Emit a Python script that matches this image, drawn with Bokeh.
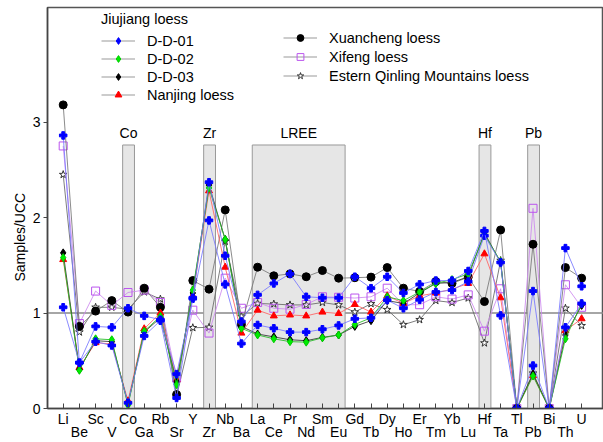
from bokeh.plotting import figure
from bokeh.models import (Range1d, FixedTicker, LinearAxis, Legend, Span,
                          LegendItem, Title, ColumnDataSource)
from bokeh.core.properties import value
from bokeh.embed import file_html
from bokeh.resources import INLINE

FONT = "Liberation Sans"
NAN = float("nan")

elements = ["Li", "Be", "Sc", "V", "Co", "Ga", "Rb", "Sr", "Y", "Zr", "Nb", "Ba",
            "La", "Ce", "Pr", "Nd", "Sm", "Eu", "Gd", "Tb", "Dy", "Ho", "Er", "Tm",
            "Yb", "Lu", "Hf", "Ta", "Tl", "Pb", "Bi", "Th", "U"]

dd01 = [1.06, 0.48, 0.86, 0.85, 1.05, 0.97, 0.93, 0.36, 1.15, 1.97, 1.30, 0.68,
        0.875, 0.84, 0.80, 0.80, 0.83, 0.87, 0.94, 0.95, 1.135, 1.05, 1.14, 1.22,
        1.24, 1.33, 1.81, 1.53, 0.0, 0.45, 0.0, 0.85, 1.10]
dd02 = [1.58, 0.40, 0.73, 0.72, 0.035, 0.81, 0.965, 0.25, 1.24, 2.31, 1.77, 0.84,
        0.77, 0.73, 0.70, 0.695, 0.74, 0.77, 0.88, 0.95, 1.17, 1.13, 1.22, 1.31,
        1.35, 1.41, 1.82, 1.54, 0.0, 0.34, 0.0, 0.73, 1.10]
dd03 = [1.63, 0.41, 0.71, 0.70, 0.05, 0.80, 0.95, 0.28, 1.21, 2.34, 1.77, 0.86,
        0.78, 0.75, 0.72, 0.71, 0.745, 0.77, 0.86, 0.92, 1.13, 1.10, 1.21, 1.31,
        1.32, 1.38, 1.84, 1.53, 0.0, 0.36, 0.0, 0.77, 1.08]
nanjing = [1.56, 0.43, 0.69, 0.675, 0.08, 0.835, 1.00, 0.30, 1.18, 2.28, 1.48, 0.79,
           1.03, 0.97, 0.98, 0.97, 1.01, 0.995, 1.09, 1.01, 1.18, 1.10, 1.18, 1.21,
           1.25, 1.31, 1.62, 1.16, 0.0, 0.345, 0.0, 0.815, 0.94]
xuancheng = [3.18, 0.86, 1.02, 1.13, 1.01, 1.26, 1.06, 0.146, 1.34, 1.25, 2.08, 0.88,
             1.48, 1.39, 1.41, 1.38, 1.445, 1.365, 1.37, 1.376, 1.476, 1.26, 1.226, 1.33,
             1.31, 1.376, 1.12, 1.87, 0.0, 1.72, 0.0, 1.476, 1.365]
xifeng = [2.75, 0.89, 1.23, 1.08, 1.215, 1.24, 1.11, 0.32, 1.03, 0.79, 1.365, 1.05,
          1.11, 1.05, 1.04, 1.09, 1.17, 1.165, 1.157, 1.17, 1.26, 1.087, 1.087, 1.17,
          1.146, 1.19, 0.81, 1.254, 0.0, 2.097, 0.0, 1.296, 1.06]
qinling = [2.45, 0.80, 1.06, 1.06, 1.04, 1.22, 1.146, 0.13, 0.846, 0.85, 1.75, 0.965,
           1.10, 1.094, 1.085, 1.085, 1.11, 1.085, 1.01, 1.097, 1.035, 0.878, 0.93, 1.13,
           1.11, 1.157, 0.686, 1.55, 0.0, 0.37, 0.0, 1.05, 0.867]
extra_blue = [2.86, 0.48, 0.70, 0.66, 0.06, 0.76, 0.92, 0.11, 1.16, 2.37, 1.60, 0.91,
              1.19, 1.31, 1.41, 1.17, 1.16, 1.16, 1.38, 1.26, 1.38, 1.21, 1.30, 1.34,
              1.34, 1.44, 1.86, 0.975, 0.0, 1.23, 0.0, 1.68, 1.28]

shade_groups = [("Co", "Co"), ("Zr", "Zr"), ("La", "Eu"), ("Hf", "Hf"), ("Pb", "Pb")]
shade_labels = ["Co", "Zr", "LREE", "Hf", "Pb"]
shade_top = 2.76
ref_level = 1.0
y_ticks = [0, 1, 2, 3]

xs = list(range(len(elements)))
idx = {e: i for i, e in enumerate(elements)}

p = figure(width=603, height=442, output_backend="svg", toolbar_location=None,
           x_range=Range1d(-0.969, 33.35), y_range=Range1d(0, 4.2),
           min_border_left=47, min_border_right=0, min_border_top=7, min_border_bottom=0,
           x_axis_location=None, y_axis_location=None)
p.grid.grid_line_color = None
p.outline_line_color = "#555555"
p.outline_line_width = 1.5
p.background_fill_color = "white"

# axes
yaxis = LinearAxis(ticker=FixedTicker(ticks=y_ticks), major_tick_in=0, major_tick_out=4,
                   minor_tick_line_color=None, major_label_text_font=FONT,
                   major_label_text_font_size="14px", major_label_standoff=3,
                   axis_line_color="#444", axis_line_width=1.5,
                   major_tick_line_color="#444", major_label_text_color="black")
p.add_layout(yaxis, "left")

xaxis1 = LinearAxis(ticker=FixedTicker(ticks=xs),
                    major_label_overrides={i: (elements[i] if i % 2 == 0 else "") for i in xs},
                    major_tick_in=5, major_tick_out=0, minor_tick_line_color=None,
                    major_label_text_font=FONT, major_label_text_font_size="14px",
                    major_label_standoff=2, axis_line_color="#444", axis_line_width=1.5,
                    major_tick_line_color="#444", major_label_text_color="black")
p.add_layout(xaxis1, "below")
odd = [i for i in xs if i % 2 == 1]
xaxis2 = LinearAxis(ticker=FixedTicker(ticks=odd),
                    major_label_overrides={i: elements[i] for i in odd},
                    major_tick_in=0, major_tick_out=0, minor_tick_line_color=None,
                    major_tick_line_color=None, axis_line_color=None,
                    major_label_text_font=FONT, major_label_text_font_size="14px",
                    major_label_standoff=-6, major_label_text_color="black")
p.add_layout(xaxis2, "below")

p.add_layout(Title(text="Samples/UCC", align="left", offset=127, text_font=FONT,
                   text_font_size="14px", text_font_style="normal",
                   text_color="black", standoff=4), "left")

p.add_layout(Span(location=ref_level, dimension="width", line_color="#888",
                  line_width=1.5, level="underlay"))

# shaded boxes
lefts = [idx[a] - 0.33 for a, b in shade_groups]
rights = [idx[b] + 0.4 for a, b in shade_groups]
centers = [(l + r) / 2 for l, r in zip(lefts, rights)]
box_src = ColumnDataSource(dict(left=lefts, right=rights, top=[shade_top] * len(lefts),
                                bottom=[0] * len(lefts), cx=centers, lab=shade_labels,
                                ly=[shade_top + 0.125] * len(lefts)))
p.quad(left="left", right="right", top="top", bottom="bottom", source=box_src,
       fill_color="#e6e6e6", line_color="#999999", line_width=1)
p.text(x="cx", y="ly", text="lab", source=box_src, text_font=value(FONT),
       text_font_size="14px", text_align="center", text_baseline="middle",
       text_color="black")

series = [
    (qinling, "#666666", "star", 8, "white", "#333333"),
    (xifeng, "#cc88ee", "square", 8, None, "#bb55ee"),
    (xuancheng, "#777777", "circle", 8, "black", "black"),
    (nanjing, "#ff6060", "triangle", 7, "red", "red"),
    (dd03, "#333333", "diamond", 8, "black", "black"),
    (dd02, "#22bb22", "diamond", 8, "#00ee00", "#00cc00"),
    (dd01, "#7777ff", "plus", 7.5, "blue", "blue"),
    (extra_blue, "#7777ff", "plus", 7.5, "blue", "blue"),
]
for vals, lc, mk, sz, fc, mlc in series:
    p.line(xs, vals, line_color=lc, line_width=1, line_alpha=0.85)
    p.scatter(xs, vals, marker=mk, size=sz, fill_color=fc, line_color=mlc, line_width=1)


def leg(marker, size, fill, line):
    l = p.line([NAN], [NAN], line_color="#999999", line_width=1)
    m = p.scatter([NAN], [NAN], marker=marker, size=size, fill_color=fill, line_color=line)
    return [l, m]


leg_common = dict(background_fill_alpha=0, border_line_color=None, padding=0, margin=0,
                  spacing=1, label_height=17, glyph_height=17, glyph_width=34,
                  label_standoff=12, label_text_font=FONT, label_text_font_size="14.5px",
                  label_text_color="black")

leg1 = Legend(items=[
    LegendItem(label="D-D-01", renderers=leg("diamond", 11, "blue", "blue")),
    LegendItem(label="D-D-02", renderers=leg("diamond", 11, "#00ee00", "#00cc00")),
    LegendItem(label="D-D-03", renderers=leg("diamond", 11, "black", "black")),
    LegendItem(label="Nanjing loess", renderers=leg("triangle", 10, "red", "red")),
], title="Jiujiang loess", title_text_font=FONT, title_text_font_size="14.5px",
    title_text_font_style="normal", title_text_color="black", title_standoff=5,
    location=(54, 305), **leg_common)
p.add_layout(leg1)

leg2 = Legend(items=[
    LegendItem(label="Xuancheng loess", renderers=leg("circle", 12, "black", "black")),
    LegendItem(label="Xifeng loess", renderers=leg("square", 11, None, "#bb55ee")),
    LegendItem(label="Estern Qinling Mountains loess", renderers=leg("star", 10, "white", "#333333")),
], location=(236, 324), **dict(leg_common, spacing=2))
p.add_layout(leg2)

open("out.html", "w").write(file_html(p, INLINE))
